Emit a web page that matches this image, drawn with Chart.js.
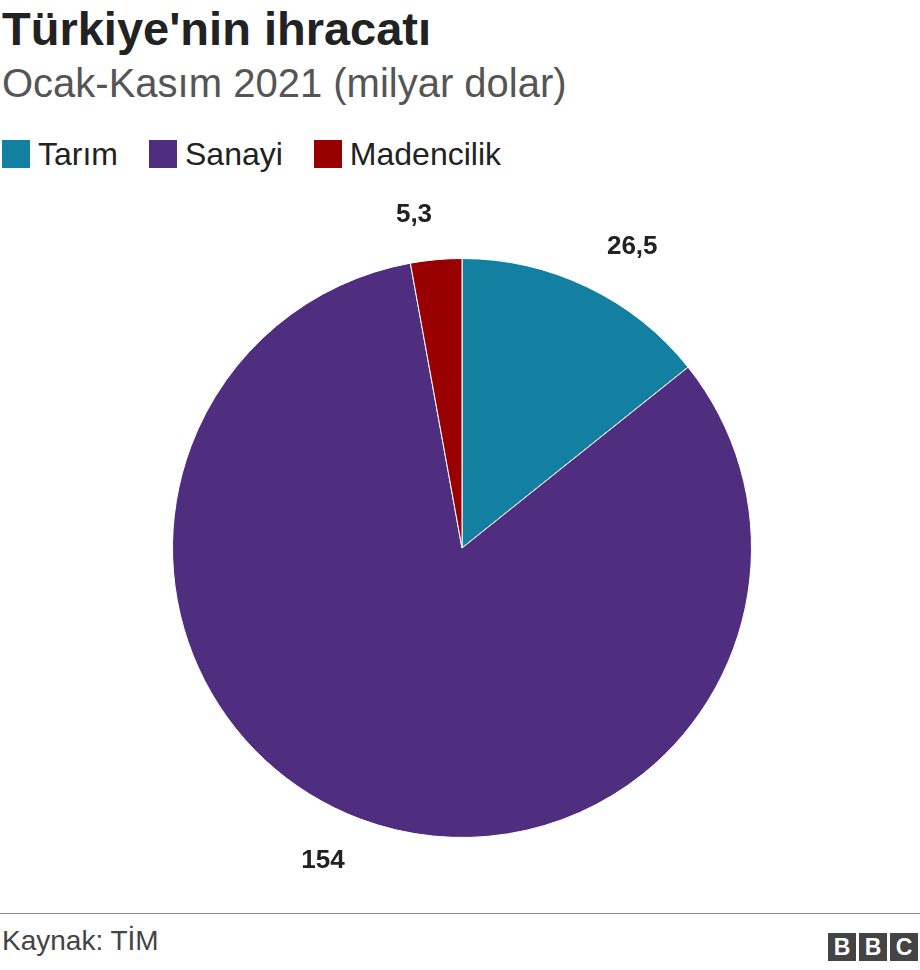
<!DOCTYPE html>
<html><head><meta charset="utf-8">
<script src="https://cdn.jsdelivr.net/npm/chart.js@4/dist/chart.umd.min.js"></script>
<style>
body{margin:0;width:920px;height:970px;background:#fff;font-family:"Liberation Sans",Arial,sans-serif;position:relative;overflow:hidden}
#t{position:absolute;left:2px;top:5px;font-size:47px;font-weight:bold;color:#222;line-height:1}
#s{position:absolute;left:2px;top:63px;font-size:40px;color:#555;line-height:1}
#lg{position:absolute;left:2px;top:138px;font-size:32px;color:#222;display:flex;line-height:1}
#lg span{display:inline-flex;align-items:center;margin-right:31px}
#lg i{display:inline-block;width:28px;height:28px;margin-right:8px}
#c{position:absolute;left:0;top:190px;width:924px;height:716px}
#hr{position:absolute;left:0;top:913px;width:920px;height:1px;background:#888}
#src{position:absolute;left:2px;top:926px;font-size:28px;color:#444;line-height:1.1}
#bbc{position:absolute;right:2px;top:933px;display:flex;gap:3px}
#bbc b{width:28px;height:28px;background:#444;color:#fff;font-size:23px;display:flex;align-items:center;justify-content:center}
</style></head><body>
<div id="t">Türkiye'nin ihracatı</div>
<div id="s">Ocak-Kasım 2021 (milyar dolar)</div>
<div id="lg"></div>
<div id="c"><canvas id="cv"></canvas></div>
<div id="hr"></div>
<div id="src">Kaynak: TİM</div>
<div id="bbc"><b>B</b><b>B</b><b>C</b></div>
<script>
const categories=["Tarım","Sanayi","Madencilik"];
const values=[26.5,154,5.3];
const valueLabels=["26,5","154","5,3"];
const colors=["#1380a1","#4f2d7f","#990000"];
document.getElementById('lg').innerHTML=categories.map((c,i)=>`<span><i style="background:${colors[i]}"></i>${c}</span>`).join('');
const lbl={id:'lbl',afterDatasetsDraw(ch){const ctx=ch.ctx;const m=ch.getDatasetMeta(0);ctx.save();ctx.font='bold 26px "Liberation Sans",Arial';ctx.fillStyle='#222';ctx.textBaseline='middle';
m.data.forEach((a,i)=>{const ang=(a.startAngle+a.endAngle)/2;const r=a.outerRadius+45;const x=a.x+Math.cos(ang)*r;ctx.textAlign=x>a.x?'left':'right';ctx.fillText(valueLabels[i],x,a.y+Math.sin(ang)*r);});ctx.restore();}};
new Chart(document.getElementById('cv'),{type:'pie',data:{labels:categories,datasets:[{data:values,backgroundColor:colors,borderColor:'#fff',borderWidth:1}]},
options:{responsive:true,maintainAspectRatio:false,animation:false,layout:{padding:68},plugins:{legend:{display:false},tooltip:{enabled:false}}},plugins:[lbl]});
</script></body></html>
